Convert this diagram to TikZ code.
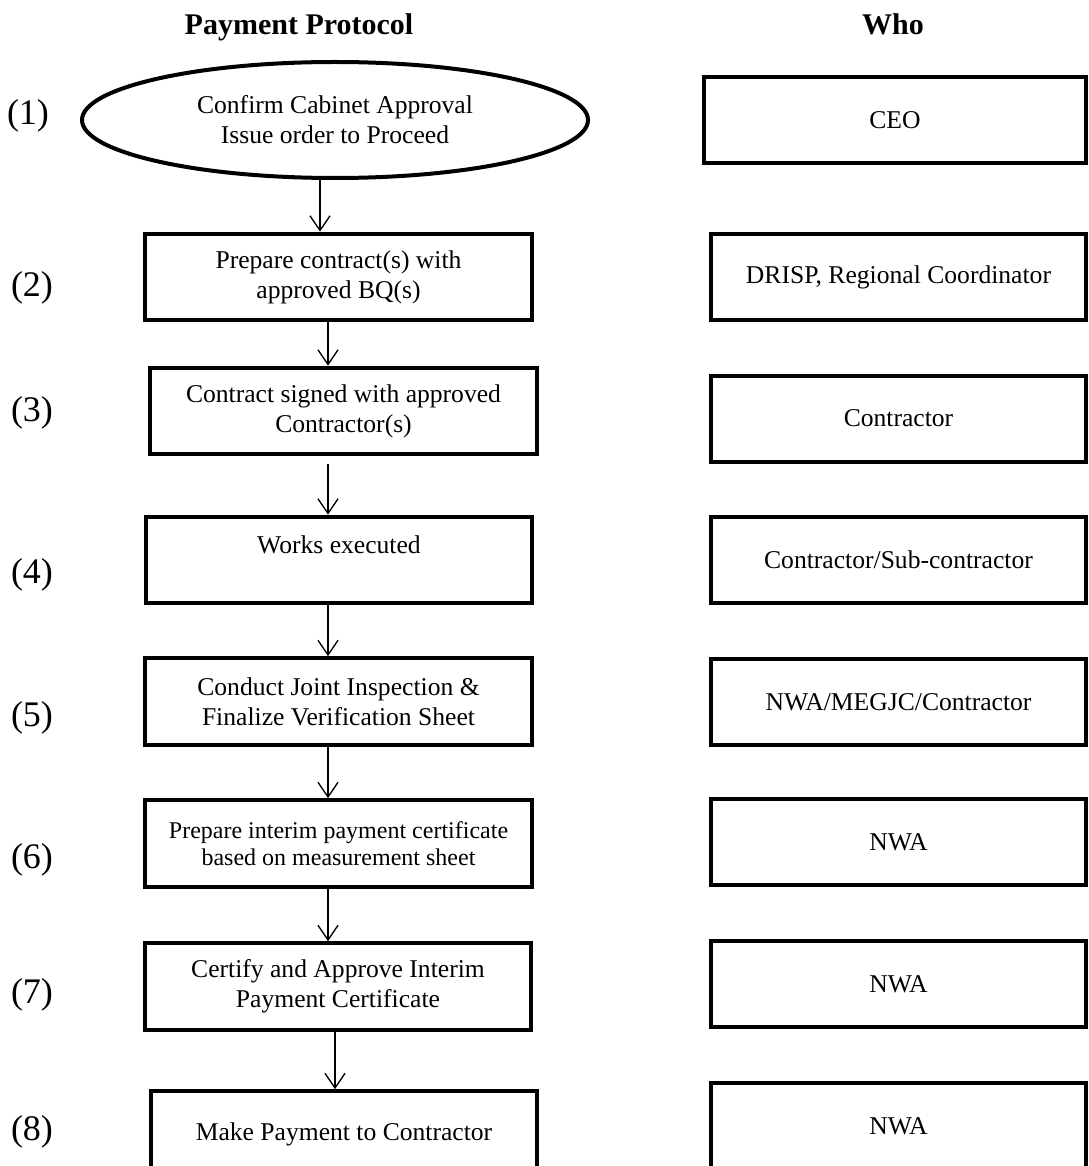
\documentclass[tikz,border=0pt]{standalone}
\usepackage{fontspec}
\setmainfont{Liberation Serif}
\usetikzlibrary{arrows.meta,shapes.geometric}

\tikzset{every picture/.style={line width=0.75pt}}
\tikzset{
  stepbox/.style={draw, line width=3pt, minimum width=290pt, minimum height=65pt, align=center, inner sep=0pt, font=\fontsize{19.2}{22.5}\selectfont},
  whobox/.style={draw, line width=3pt, minimum width=281.5pt, minimum height=64.5pt, align=center, inner sep=0pt, font=\fontsize{19.2}{22.5}\selectfont},
  flow/.style={-{Straight Barb[length=11pt,width=15pt]}, line width=1pt},
  numlabel/.style={inner sep=0pt, font=\fontsize{27}{30}\selectfont},
  heading/.style={anchor=base, inner sep=0pt, font=\fontsize{22.5}{26}\selectfont\bfseries}
}

\begin{document}
\begin{tikzpicture}[x=0.75pt,y=0.75pt,yscale=-1,xscale=1]
\useasboundingbox (0,0) rectangle (1088,1166);

% Text Node
\node[heading] (hpay) at (299,35) {Payment Protocol};
% Text Node
\node[heading] (hwho) at (893,35) {Who};

%Shape: Ellipse
\node[draw, ellipse, line width=3pt, minimum width=379.5pt, minimum height=87pt, align=center, inner sep=0pt, font=\fontsize{19.2}{22.5}\selectfont] (s1) at (335,120) {Confirm Cabinet Approval\\Issue order to Proceed};

%Shape: Rectangle
\node[stepbox] (s2) at (338.5,277) {Prepare contract(s) with\\approved BQ(s)};
%Shape: Rectangle
\node[stepbox] (s3) at (343.5,411) {Contract signed with approved\\Contractor(s)};
%Shape: Rectangle
\node[stepbox] (s4) at (339,560) {Works executed\\\phantom{W}};
%Shape: Rectangle
\node[stepbox] (s5) at (338.5,701.5) {Conduct Joint Inspection \&\\Finalize Verification Sheet};
%Shape: Rectangle
\node[stepbox, font=\fontsize{18}{20.3}\selectfont] (s6) at (338.5,843.5) {Prepare interim payment certificate\\based on measurement sheet};
%Shape: Rectangle
\node[stepbox] (s7) at (338,986.5) {Certify and Approve Interim\\Payment Certificate};
%Shape: Rectangle
\node[stepbox] (s8) at (344,1134.5) {Make Payment to Contractor};

%Shape: Rectangle
\node[whobox, minimum width=286.5pt] (w1) at (895,120.5) {CEO};
%Shape: Rectangle
\node[whobox] (w2) at (898.5,277) {DRISP, Regional Coordinator};
%Shape: Rectangle
\node[whobox] (w3) at (898.5,418.5) {Contractor};
%Shape: Rectangle
\node[whobox] (w4) at (898.5,560) {Contractor/Sub-contractor};
%Shape: Rectangle
\node[whobox] (w5) at (898.5,702) {NWA/MEGJC/Contractor};
%Shape: Rectangle
\node[whobox] (w6) at (898.5,842) {NWA};
%Shape: Rectangle
\node[whobox] (w7) at (898.5,984) {NWA};
%Shape: Rectangle
\node[whobox] (w8) at (898.5,1126) {NWA};

% Text Node
\node[numlabel] (n1) at (28,116) {(1)};
% Text Node
\node[numlabel] (n2) at (32,288) {(2)};
% Text Node
\node[numlabel] (n3) at (32,413) {(3)};
% Text Node
\node[numlabel] (n4) at (32,575) {(4)};
% Text Node
\node[numlabel] (n5) at (32,718) {(5)};
% Text Node
\node[numlabel] (n6) at (32,860) {(6)};
% Text Node
\node[numlabel] (n7) at (32,995) {(7)};
% Text Node
\node[numlabel] (n8) at (32,1132) {(8)};

%Straight Lines
\coordinate (c1) at (320,0);
\coordinate (c2) at (328,0);
\coordinate (c7) at (335,0);
\draw[flow] (s1.south -| c1) -- (s2.north -| c1);
\draw[flow] (s2.south -| c2) -- (s3.north -| c2);
\draw[flow, shorten <=6pt] (s3.south -| c2) -- (s4.north -| c2);
\draw[flow] (s4.south -| c2) -- (s5.north -| c2);
\draw[flow] (s5.south -| c2) -- (s6.north -| c2);
\draw[flow] (s6.south -| c2) -- (s7.north -| c2);
\draw[flow] (s7.south -| c7) -- (s8.north -| c7);

\end{tikzpicture}
\end{document}
